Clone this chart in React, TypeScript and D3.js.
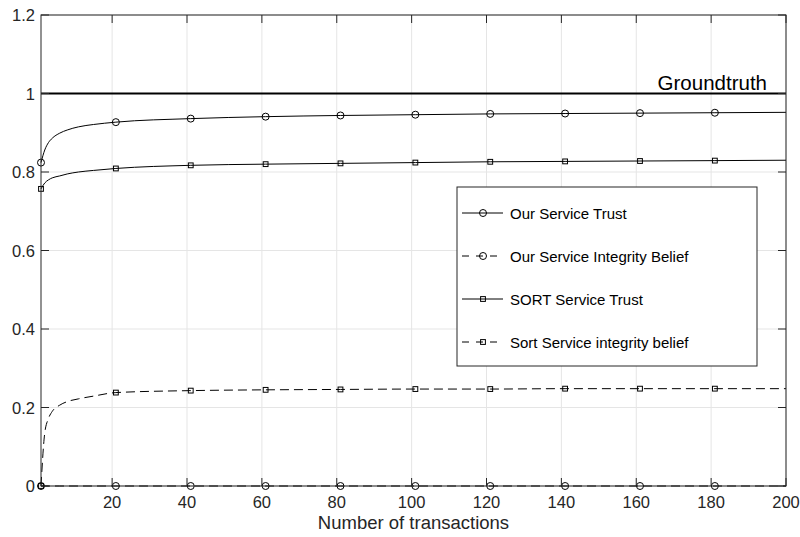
import React from 'react';
import * as d3 from 'd3';

const samples = [1, 2, 3, 4, 6, 8, 11, 15, 21, 41, 61, 81, 101, 121, 141, 161, 181, 200];

const ourTrust = [0.824, 0.856, 0.875, 0.886, 0.899, 0.907, 0.915, 0.921, 0.927, 0.936, 0.941, 0.944, 0.946, 0.948, 0.949, 0.95, 0.951, 0.952];
const ourIntegrity = [0, 0, 0, 0, 0, 0, 0, 0, 0, 0, 0, 0, 0, 0, 0, 0, 0, 0];
const sortTrust = [0.757, 0.772, 0.78, 0.785, 0.79, 0.795, 0.8, 0.804, 0.809, 0.817, 0.82, 0.822, 0.824, 0.826, 0.827, 0.828, 0.829, 0.83];
const sortIntegrity = [0, 0.135, 0.172, 0.19, 0.206, 0.215, 0.222, 0.229, 0.238, 0.243, 0.245, 0.246, 0.247, 0.247, 0.248, 0.248, 0.248, 0.248];

const markerAt = [1, 21, 41, 61, 81, 101, 121, 141, 161, 181];

const xTicks = [20, 40, 60, 80, 100, 120, 140, 160, 180, 200];
const yTicks = [0, 0.2, 0.4, 0.6, 0.8, 1, 1.2];

const series = [
  { name: 'Our Service Trust', values: ourTrust, dash: null, marker: 'circle' },
  { name: 'Our Service Integrity Belief', values: ourIntegrity, dash: '9,5', marker: 'circle' },
  { name: 'SORT Service Trust', values: sortTrust, dash: null, marker: 'square' },
  { name: 'Sort Service integrity belief', values: sortIntegrity, dash: '9,5', marker: 'square' },
];

const W = 800, H = 537;
const left = 41, right = 786, top = 15, bottom = 486;
const axisColor = '#262626';
const font = '"Liberation Sans", Arial, Helvetica, sans-serif';

function Marker({ kind, cx, cy }: { kind: string; cx: number; cy: number }) {
  if (kind === 'circle') {
    return <circle cx={cx} cy={cy} r={3.5} fill="none" stroke="#000" strokeWidth={1} />;
  }
  return <rect x={cx - 2.4} y={cy - 2.4} width={4.8} height={4.8} fill="none" stroke="#000" strokeWidth={1} />;
}

export default function App() {
  const x = d3.scaleLinear().domain([1, 200]).range([left, right]);
  const y = d3.scaleLinear().domain([0, 1.2]).range([bottom, top]);

  const line = d3.line<[number, number]>()
    .x(d => x(d[0]))
    .y(d => y(d[1]))
    .curve(d3.curveMonotoneX);

  const tickLen = 8;

  // legend placement
  const lg = { x0: 457, y0: 187, x1: 757, y1: 366 };
  const rowY = [213, 256, 299, 342];

  return (
    <svg width={W} height={H} style={{ position: 'absolute', left: 0, top: 0, background: '#fff' }}>
      <rect x={0} y={0} width={W} height={H} fill="#fff" />

      {/* grid */}
      <g stroke="#e5e5e5" strokeWidth={1}>
        {xTicks.map(t => (
          <line key={'gx' + t} x1={x(t)} x2={x(t)} y1={top} y2={bottom} />
        ))}
        {yTicks.map(t => (
          <line key={'gy' + t} x1={left} x2={right} y1={y(t)} y2={y(t)} />
        ))}
      </g>

      {/* groundtruth */}
      <line x1={left} x2={right} y1={y(1)} y2={y(1)} stroke="#000" strokeWidth={2} />
      <text x={767} y={90} textAnchor="end" fontFamily={font} fontSize={20.5} fill="#000">Groundtruth</text>

      {/* series */}
      {series.map(s => {
        const pts: [number, number][] = samples.map((v, i) => [v, s.values[i]]);
        return (
          <g key={s.name}>
            <path d={line(pts) || ''} fill="none" stroke="#000" strokeWidth={1} strokeDasharray={s.dash || undefined} />
            {markerAt.map(m => {
              const i = samples.indexOf(m);
              return <Marker key={m} kind={s.marker} cx={x(m)} cy={y(s.values[i])} />;
            })}
          </g>
        );
      })}

      {/* axes box and ticks */}
      <g stroke={axisColor} strokeWidth={1} fill="none">
        <rect x={left} y={top} width={right - left} height={bottom - top} />
        {xTicks.map(t => (
          <g key={'tx' + t}>
            <line x1={x(t)} x2={x(t)} y1={bottom} y2={bottom - tickLen} />
            <line x1={x(t)} x2={x(t)} y1={top} y2={top + tickLen} />
          </g>
        ))}
        {yTicks.map(t => (
          <g key={'ty' + t}>
            <line x1={left} x2={left + tickLen} y1={y(t)} y2={y(t)} />
            <line x1={right} x2={right - tickLen} y1={y(t)} y2={y(t)} />
          </g>
        ))}
      </g>

      {/* tick labels */}
      <g fontFamily={font} fontSize={16.5} fill={axisColor}>
        {xTicks.map(t => (
          <text key={'lx' + t} x={x(t)} y={bottom + 22} textAnchor="middle">{t}</text>
        ))}
        {yTicks.map(t => (
          <text key={'ly' + t} x={left - 6} y={y(t) + 6} textAnchor="end">{t}</text>
        ))}
        <text x={(left + right) / 2} y={529} textAnchor="middle" fontSize={18.5}>Number of transactions</text>
      </g>

      {/* legend */}
      <g>
        <rect x={lg.x0} y={lg.y0} width={lg.x1 - lg.x0} height={lg.y1 - lg.y0} fill="#fff" stroke={axisColor} strokeWidth={1} />
        {series.map((s, i) => (
          <g key={'lg' + s.name}>
            <line x1={462} x2={503} y1={rowY[i]} y2={rowY[i]} stroke="#000" strokeWidth={1} strokeDasharray={s.dash ? '7,7' : undefined} />
            <Marker kind={s.marker} cx={483} cy={rowY[i]} />
            <text x={510} y={rowY[i] + 5.5} fontFamily={font} fontSize={15} fill="#000">{s.name}</text>
          </g>
        ))}
      </g>
    </svg>
  );
}
